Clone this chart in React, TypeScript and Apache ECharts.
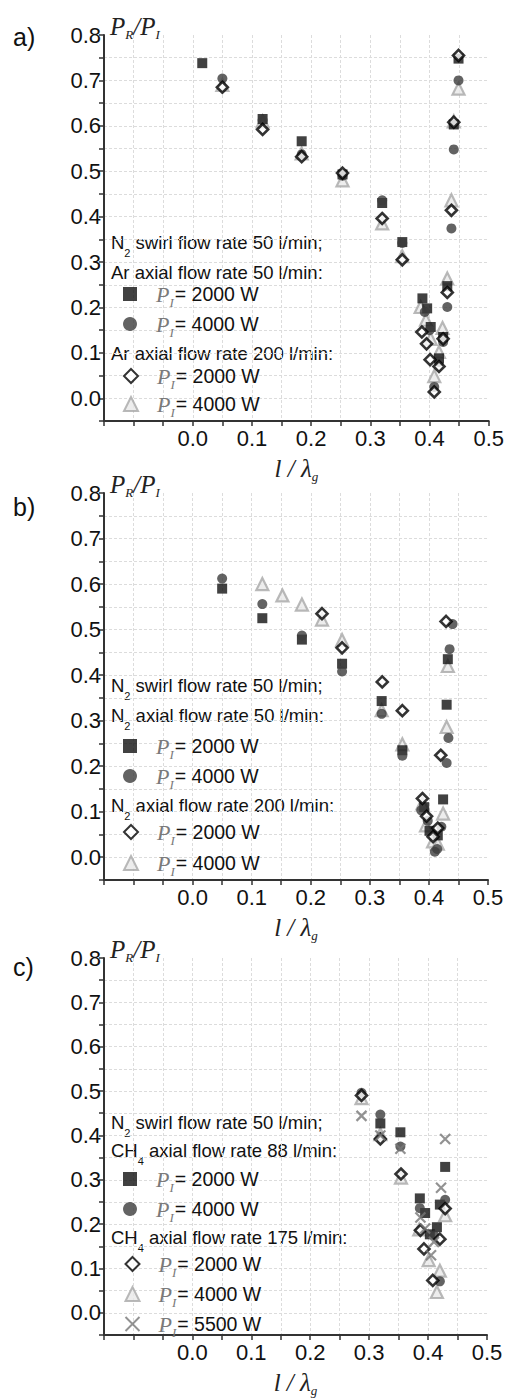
import React, { useEffect, useRef } from "react";
import * as echarts from "echarts";

const SANS = "'Liberation Sans', Arial, sans-serif";
const SERIF = "'Liberation Serif', 'Times New Roman', serif";

// ---------- Panel a: Ar axial flow ----------
const A_AR50_P2000 = [
  [0.016, 0.738], [0.118, 0.615], [0.184, 0.566], [0.253, 0.493], [0.32, 0.43], [0.354, 0.344],
  [0.388, 0.22], [0.396, 0.198], [0.402, 0.157], [0.416, 0.088], [0.423, 0.135], [0.43, 0.247],
  [0.441, 0.603], [0.449, 0.748],
];
const A_AR50_P4000 = [
  [0.05, 0.704], [0.118, 0.612], [0.184, 0.537], [0.253, 0.49], [0.32, 0.436], [0.354, 0.342],
  [0.392, 0.19], [0.4, 0.15], [0.408, 0.025], [0.416, 0.08], [0.423, 0.124], [0.43, 0.201],
  [0.437, 0.374], [0.441, 0.548], [0.449, 0.7],
];
const A_AR200_P2000 = [
  [0.05, 0.685], [0.118, 0.592], [0.184, 0.532], [0.253, 0.496], [0.32, 0.396], [0.354, 0.305],
  [0.387, 0.146], [0.395, 0.12], [0.401, 0.085], [0.408, 0.014], [0.416, 0.07], [0.423, 0.131],
  [0.43, 0.233], [0.437, 0.414], [0.441, 0.608], [0.449, 0.755],
];
const A_AR200_P4000 = [
  [0.05, 0.69], [0.118, 0.61], [0.184, 0.539], [0.253, 0.48], [0.32, 0.385], [0.354, 0.313],
  [0.385, 0.201], [0.394, 0.173], [0.402, 0.131], [0.408, 0.049], [0.416, 0.102], [0.422, 0.155],
  [0.43, 0.264], [0.437, 0.436], [0.441, 0.61], [0.449, 0.682],
];

// ---------- Panel b: N2 axial flow ----------
const B_N250_P2000 = [
  [0.05, 0.59], [0.118, 0.525], [0.185, 0.478], [0.253, 0.425], [0.32, 0.343], [0.355, 0.235],
  [0.392, 0.11], [0.401, 0.058], [0.415, 0.048], [0.424, 0.127], [0.43, 0.335], [0.432, 0.435],
];
const B_N250_P4000 = [
  [0.05, 0.612], [0.118, 0.556], [0.185, 0.487], [0.253, 0.408], [0.32, 0.315], [0.355, 0.223],
  [0.387, 0.103], [0.398, 0.08], [0.41, 0.012], [0.414, 0.018], [0.421, 0.067], [0.43, 0.207],
  [0.433, 0.262], [0.435, 0.457], [0.44, 0.512],
];
const B_N2200_P2000 = [
  [0.219, 0.535], [0.253, 0.46], [0.321, 0.385], [0.355, 0.322], [0.389, 0.129], [0.396, 0.09],
  [0.407, 0.045], [0.415, 0.064], [0.42, 0.224], [0.429, 0.518],
];
const B_N2200_P4000 = [
  [0.118, 0.6], [0.152, 0.575], [0.185, 0.555], [0.219, 0.522], [0.253, 0.477], [0.32, 0.323],
  [0.355, 0.248], [0.389, 0.118], [0.395, 0.07], [0.407, 0.035], [0.415, 0.03], [0.424, 0.096],
  [0.43, 0.286], [0.432, 0.42],
];

// ---------- Panel c: CH4 axial flow ----------
const C_CH488_P2000 = [
  [0.319, 0.427], [0.353, 0.407], [0.386, 0.258], [0.395, 0.225], [0.403, 0.177], [0.415, 0.193],
  [0.42, 0.244], [0.429, 0.329],
];
const C_CH488_P4000 = [
  [0.287, 0.496], [0.319, 0.447], [0.353, 0.375], [0.386, 0.236], [0.41, 0.175], [0.42, 0.071],
  [0.429, 0.255],
];
const C_CH4175_P2000 = [
  [0.287, 0.49], [0.319, 0.392], [0.354, 0.313], [0.387, 0.186], [0.393, 0.144], [0.408, 0.073],
  [0.42, 0.166], [0.429, 0.235],
];
const C_CH4175_P4000 = [
  [0.287, 0.484], [0.319, 0.403], [0.354, 0.305], [0.385, 0.188], [0.401, 0.119], [0.415, 0.047],
  [0.42, 0.095], [0.429, 0.22],
];
const C_CH4175_P5500 = [
  [0.287, 0.444], [0.319, 0.4], [0.353, 0.37], [0.387, 0.215], [0.395, 0.19], [0.405, 0.13],
  [0.41, 0.16], [0.422, 0.282], [0.429, 0.392],
];

const PANEL_LABELS = ["a)", "b)", "c)"];
const X_TICK_LABELS = ["0.0", "0.1", "0.2", "0.3", "0.4", "0.5"];
const Y_TICK_LABELS = ["0.0", "0.1", "0.2", "0.3", "0.4", "0.5", "0.6", "0.7", "0.8"];

const HEADERS = [
  ["{n|N}{s|2}{n| swirl flow rate 50 l/min;}", "{n|Ar axial flow rate 50 l/min:}", "{n|Ar axial flow rate 200 l/min:}"],
  ["{n|N}{s|2}{n| swirl flow rate 50 l/min;}", "{n|N}{s|2}{n| axial flow rate 50 l/min:}", "{n|N}{s|2}{n| axial flow rate 200 l/min:}"],
  ["{n|N}{s|2}{n| swirl flow rate 50 l/min;}", "{n|CH}{s|4}{n| axial flow rate 88 l/min:}", "{n|CH}{s|4}{n| axial flow rate 175 l/min:}"],
];

// layout (pixels)
const GRIDS = [
  { left: 104, top: 35, width: 386, height: 386 },
  { left: 104, top: 493, width: 384, height: 387 },
  { left: 104, top: 958, width: 383, height: 383 },
];
const PANEL_LABEL_Y = [37, 507, 967];
const HEADER_Y = [
  [244, 274, 355],
  [687, 717, 807],
  [1124, 1152, 1239],
];
const LEGEND_POS = [
  [{ top: 283, gap: 4 }, { top: 365, gap: 2 }],
  [{ top: 735, gap: 4 }, { top: 821, gap: 5 }],
  [{ top: 1168, gap: 4 }, { top: 1253, gap: 4 }],
];

const STYLE: Record<string, any> = {
  sq: { symbol: "rect", symbolSize: 10, itemStyle: { color: "#111" } },
  ci: { symbol: "circle", symbolSize: 10, itemStyle: { color: "#3c3c3c" } },
  tr: { symbol: "triangle", symbolSize: 12, itemStyle: { color: "#e8e8e8", borderColor: "#a8a8a8", borderWidth: 2.2 } },
  di: { symbol: "diamond", symbolSize: 11, itemStyle: { color: "#fff", borderColor: "#000", borderWidth: 2.6 } },
  x: { symbol: "path://M0,0L10,10M10,0L0,10", symbolSize: 10, itemStyle: { color: "none", borderColor: "#777", borderWidth: 2.2 } },
};

type Ser = { name: string; data: number[][]; kind: string; power: string };
const PANEL_SERIES: Ser[][][] = [
  [
    [
      { name: "a: Ar 50 l/min, 2000 W", data: A_AR50_P2000, kind: "sq", power: "2000 W" },
      { name: "a: Ar 50 l/min, 4000 W", data: A_AR50_P4000, kind: "ci", power: "4000 W" },
    ],
    [
      { name: "a: Ar 200 l/min, 2000 W", data: A_AR200_P2000, kind: "di", power: "2000 W" },
      { name: "a: Ar 200 l/min, 4000 W", data: A_AR200_P4000, kind: "tr", power: "4000 W" },
    ],
  ],
  [
    [
      { name: "b: N2 50 l/min, 2000 W", data: B_N250_P2000, kind: "sq", power: "2000 W" },
      { name: "b: N2 50 l/min, 4000 W", data: B_N250_P4000, kind: "ci", power: "4000 W" },
    ],
    [
      { name: "b: N2 200 l/min, 2000 W", data: B_N2200_P2000, kind: "di", power: "2000 W" },
      { name: "b: N2 200 l/min, 4000 W", data: B_N2200_P4000, kind: "tr", power: "4000 W" },
    ],
  ],
  [
    [
      { name: "c: CH4 88 l/min, 2000 W", data: C_CH488_P2000, kind: "sq", power: "2000 W" },
      { name: "c: CH4 88 l/min, 4000 W", data: C_CH488_P4000, kind: "ci", power: "4000 W" },
    ],
    [
      { name: "c: CH4 175 l/min, 2000 W", data: C_CH4175_P2000, kind: "di", power: "2000 W" },
      { name: "c: CH4 175 l/min, 4000 W", data: C_CH4175_P4000, kind: "tr", power: "4000 W" },
      { name: "c: CH4 175 l/min, 5500 W", data: C_CH4175_P5500, kind: "x", power: "5500 W" },
    ],
  ],
];

const DRAW_ORDER = ["tr", "sq", "ci", "di", "x"];

const tickFmt = (labels: string[]) => (v: number) => {
  const k = Math.round(v * 100);
  if (k < 0 || k % 10 !== 0) return "";
  const s = (k / 100).toFixed(1);
  return labels.includes(s) ? s : "";
};

const LEGEND_RICH = {
  p: { fontFamily: SERIF, fontStyle: "italic", fontSize: 22, color: "#7a7a7a", lineHeight: 22, verticalAlign: "top" },
  s: { fontFamily: SERIF, fontStyle: "italic", fontSize: 13, color: "#7a7a7a", lineHeight: 22, verticalAlign: "bottom", padding: [0, 1, -4, 0] },
  t: { fontFamily: SANS, fontSize: 19.5, color: "#111", lineHeight: 22, verticalAlign: "top", padding: [1, 0, 0, 0] },
};
const HEADER_RICH = {
  n: { fontFamily: SANS, fontSize: 18.5, fill: "#111", color: "#111", lineHeight: 22, verticalAlign: "top" },
  s: { fontFamily: SANS, fontSize: 11, fill: "#111", color: "#111", lineHeight: 22, verticalAlign: "bottom", padding: [0, 0, -3, 0] },
};
const AXNAME_RICH = {
  i: { fontFamily: SERIF, fontStyle: "italic", fontSize: 25, color: "#222", lineHeight: 30, verticalAlign: "middle" },
  s: { fontFamily: SERIF, fontStyle: "italic", fontSize: 13, color: "#222", lineHeight: 30, verticalAlign: "bottom" },
};

function buildOption() {
  const grid = GRIDS.map((g) => ({ ...g, containLabel: false }));
  const splitLine = { show: true, showMaxLine: false, lineStyle: { color: "#dcdcdc", width: 1, type: [3, 2] } };
  const xAxis = GRIDS.map((_, i) => ({
    gridIndex: i,
    type: "value",
    min: -0.15,
    max: 0.5,
    interval: 0.05,
    name: "{i|l / λ}{s|g}",
    nameLocation: "middle",
    nameGap: 32,
    nameTextStyle: { rich: AXNAME_RICH },
    axisLine: { onZero: false, lineStyle: { color: "#333", width: 2 } },
    axisTick: { length: 5, lineStyle: { color: "#333", width: 1.5 } },
    axisLabel: { formatter: tickFmt(X_TICK_LABELS), fontFamily: SANS, fontSize: 22, color: "#111", margin: 6 },
    splitLine,
  }));
  const yAxis = GRIDS.map((_, i) => ({
    gridIndex: i,
    type: "value",
    min: -0.05,
    max: 0.8,
    interval: 0.05,
    name: "{i|P}{s|R}{i|/P}{s|I}",
    nameLocation: "end",
    nameGap: -6,
    nameTextStyle: { rich: AXNAME_RICH, align: "left", verticalAlign: "bottom", padding: [0, 0, 0, 6] },
    axisLine: { onZero: false, lineStyle: { color: "#333", width: 2 } },
    axisTick: { length: 5, lineStyle: { color: "#333", width: 1.5 } },
    axisLabel: { formatter: tickFmt(Y_TICK_LABELS), fontFamily: SANS, fontSize: 22, color: "#111", margin: 3 },
    splitLine,
  }));

  const series: any[] = [];
  PANEL_SERIES.forEach((groups, pi) => {
    const all = groups.flat();
    DRAW_ORDER.forEach((kind) => {
      all.filter((s) => s.kind === kind).forEach((s) => {
        series.push({
          type: "scatter",
          name: s.name,
          xAxisIndex: pi,
          yAxisIndex: pi,
          data: s.data,
          ...STYLE[kind],
        });
      });
    });
  });

  const powerOf: Record<string, string> = {};
  PANEL_SERIES.flat(2).forEach((s) => (powerOf[s.name] = s.power));

  const legend: any[] = [];
  PANEL_SERIES.forEach((groups, pi) => {
    groups.forEach((grp, gi) => {
      legend.push({
        orient: "vertical",
        left: 123,
        top: LEGEND_POS[pi][gi].top,
        itemGap: LEGEND_POS[pi][gi].gap,
        padding: 0,
        itemWidth: 14,
        itemHeight: 14,
        selectedMode: false,
        data: grp.map((s) => s.name),
        formatter: (name: string) => `{p|P}{s|I}{t|= ${powerOf[name]}}`,
        textStyle: { padding: [0, 0, 0, 14], rich: LEGEND_RICH },
      });
    });
  });

  const graphic: any[] = [];
  PANEL_LABELS.forEach((lab, pi) => {
    graphic.push({
      type: "text",
      x: 13,
      y: PANEL_LABEL_Y[pi],
      style: { text: lab, font: `25px ${SANS}`, fill: "#111", verticalAlign: "middle", textVerticalAlign: "middle" },
    });
    HEADERS[pi].forEach((h, hi) => {
      graphic.push({
        type: "text",
        x: 111,
        y: HEADER_Y[pi][hi],
        style: { text: h, rich: HEADER_RICH, fill: "#111", verticalAlign: "middle", textVerticalAlign: "middle" },
      });
    });
  });

  return {
    animation: false,
    backgroundColor: "#fff",
    grid,
    xAxis,
    yAxis,
    legend,
    graphic,
    series,
  };
}

export default function App() {
  const ref = useRef<HTMLDivElement>(null);
  useEffect(() => {
    if (!ref.current) return;
    const chart = echarts.init(ref.current, undefined, { renderer: "svg" });
    chart.setOption(buildOption() as any);
    return () => chart.dispose();
  }, []);
  return (
    <div
      ref={ref}
      style={{ position: "absolute", left: 0, top: 0, width: 507, height: 1398, background: "#fff" }}
    />
  );
}
